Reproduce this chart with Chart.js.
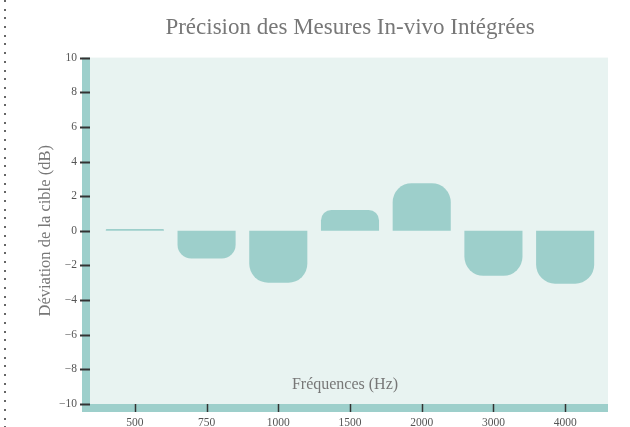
<!DOCTYPE html>
<html>
<head>
<meta charset="utf-8">
<script src="https://cdn.jsdelivr.net/npm/chart.js@4"></script>
<style>
  html, body { margin: 0; padding: 0; background: #fff; }
  #wrap { position: relative; width: 630px; height: 427px; }
  #dots {
    position: absolute; left: 4px; top: 0; width: 2px; height: 427px;
    background: repeating-linear-gradient(to bottom, #666 0 2px, transparent 2px 8.7px);
  }
</style>
</head>
<body>
<div id="wrap">
  <div id="dots"></div>
  <canvas id="myChart"></canvas>
</div>
<script>
// donnees
const frequences = ['500', '750', '1000', '1500', '2000', '3000', '4000'];
const deviations = [0.1, -1.6, -3.0, 1.2, 2.75, -2.6, -3.05];
const yTicks = [-10, -8, -6, -4, -2, 0, 2, 4, 6, 8, 10];

const teal = '#9dcfcb';
const fond = '#e8f3f1';

// fond du graphique, axes epais et titre de l'axe x
const decor = {
  id: 'decor',
  beforeDatasetsDraw(chart) {
    const c = chart.ctx;
    const a = chart.chartArea;
    const x = chart.scales.x, y = chart.scales.y;
    c.save();
    c.fillStyle = fond;
    c.fillRect(a.left - 9, a.top, a.right - a.left + 16, a.bottom - a.top);
    c.fillStyle = teal;
    c.fillRect(a.left - 17, a.top, 8, a.bottom - a.top + 8);
    c.fillRect(a.left - 17, a.bottom, a.right - a.left + 24, 8);

    c.strokeStyle = '#333';
    c.lineWidth = 2;
    yTicks.forEach(v => {
      const py = Math.round(y.getPixelForValue(v)) + 0.5;
      c.beginPath();
      c.moveTo(a.left - 19, py);
      c.lineTo(a.left - 9, py);
      c.stroke();
    });
    c.lineWidth = 1.5;
    frequences.forEach((f, i) => {
      const px = Math.round(x.getPixelForValue(i)) + 0.5;
      c.beginPath();
      c.moveTo(px, a.bottom);
      c.lineTo(px, a.bottom + 8);
      c.stroke();
    });

    c.fillStyle = '#777';
    c.font = '16px "Liberation Serif"';
    c.textAlign = 'center';
    c.textBaseline = 'middle';
    c.fillText('Fréquences (Hz)', (a.left + a.right) / 2 - 5, a.bottom - 19);
    c.restore();
  }
};

const ctx = document.getElementById('myChart').getContext('2d');
const myChart = new Chart(ctx, {
  type: 'bar',
  data: {
    labels: frequences,
    datasets: [{
      data: deviations,
      backgroundColor: teal,
      borderWidth: 0,
      borderRadius: 19,
      borderSkipped: 'start',
      barPercentage: 0.81,
      categoryPercentage: 1
    }]
  },
  options: {
    responsive: true,
    maintainAspectRatio: false,
    animation: false,
    layout: { padding: { left: 0, right: 29, top: 0, bottom: 0 } },
    plugins: {
      legend: { display: false },
      tooltip: { enabled: false },
      title: {
        display: true,
        text: 'Précision des Mesures In-vivo Intégrées',
        color: '#777',
        fullSize: false,
        font: { family: 'Liberation Serif', size: 23, weight: 'normal' },
        padding: { top: 14, bottom: 16 }
      }
    },
    scales: {
      x: {
        grid: { display: false, drawTicks: false },
        border: { display: false },
        ticks: {
          color: '#555',
          padding: 12,
          maxRotation: 0,
          font: { family: 'Liberation Serif', size: 11.5 }
        },
        afterFit: s => { s.height = 23; }
      },
      y: {
        min: -10,
        max: 10,
        // grille cachee, mais la longueur des traits sert a decaler les etiquettes
        grid: { display: false, drawTicks: true, tickLength: 19 },
        border: { display: false },
        ticks: {
          stepSize: 2,
          color: '#555',
          padding: 3,
          font: { family: 'Liberation Serif', size: 11.5 },
          callback: v => String(v).replace('-', '\u2212')
        },
        title: {
          display: true,
          text: 'Déviation de la cible (dB)',
          color: '#777',
          padding: { top: 36 },
          font: { family: 'Liberation Serif', size: 16.5 }
        },
        afterFit: s => { s.width = 99; }
      }
    }
  },
  plugins: [decor]
});
</script>
</body>
</html>
